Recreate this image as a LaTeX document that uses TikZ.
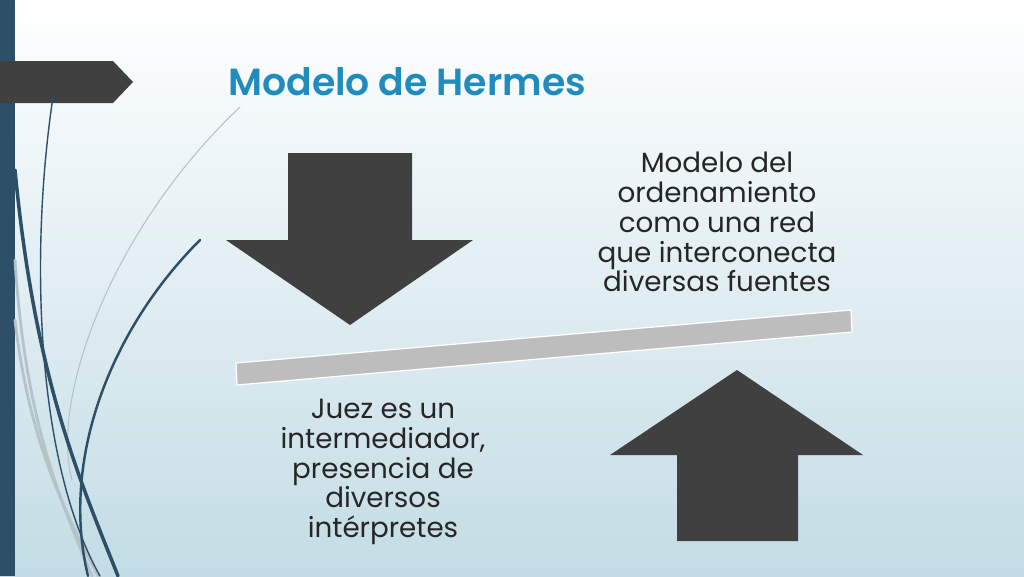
\documentclass[tikz,border=0pt]{standalone}
\usepackage{fontspec}
\setmainfont{Poppins}
\newfontfamily\titlefont{Poppins SemiBold}
\usetikzlibrary{positioning}
\definecolor{titleblue}{HTML}{1F8BBF}
\definecolor{sidebar}{HTML}{2C5068}
\definecolor{arrowgray}{HTML}{404040}
\definecolor{bargray}{HTML}{BDBDBD}
\definecolor{slidebot}{HTML}{C3DCE5}
\definecolor{slidemid}{HTML}{E2EEF2}
\definecolor{curvegray}{HTML}{B5C3C9}
\tikzset{
    bodytext/.style={align=center, inner sep=0pt, text=black!85,
        font=\fontsize{15.8}{17}\selectfont},
    darkcurve/.style={draw=sidebar, line cap=round},
    lightcurve/.style={draw=curvegray, line cap=round}
}

\begin{document}
\begin{tikzpicture}[x=0.02cm,y=-0.02cm]
        % Draw slide background
        \shade[top color=white, middle color=slidemid, bottom color=slidebot] (0,0) rectangle (1024,576);
        \useasboundingbox (0,0) rectangle (1024,576);
        % Draw side bar and title tab
        \fill[sidebar] (0,0) rectangle (15,576);
        \fill[arrowgray] (0,61) -- (113,61) -- (133,82) -- (113,103) -- (0,103) -- cycle;
        % Draw curves
        \draw[lightcurve, line width=0.6pt] (240,107) .. controls (110,230) and (50,400) .. (72,480);
        \draw[lightcurve, line width=1.6pt] (15,260) .. controls (25,420) and (60,500) .. (92,576);
        \draw[lightcurve, line width=1.6pt] (15,320) .. controls (30,450) and (70,520) .. (98,576);
        \draw[darkcurve, line width=0.8pt] (53,97) .. controls (30,250) and (35,460) .. (100,576);
        \draw[darkcurve, line width=2pt] (15,170) .. controls (35,380) and (80,480) .. (118,576);
        \draw[darkcurve, line width=1.4pt] (200,240) .. controls (110,330) and (60,460) .. (88,576);
        % Draw title
        \node[anchor=base west, inner sep=0pt, text=titleblue,
            font=\fontsize{21.5}{26}\titlefont] (title) at (228,95) {Modelo de Hermes};
        % Draw down arrow
        \fill[arrowgray] (288,153) -- (412,153) -- (412,240) -- (473,240) -- (350,325)
            -- (226,240) -- (288,240) -- cycle;
        % Draw up arrow
        \fill[arrowgray] (677,541) -- (798,541) -- (798,455) -- (863,455) -- (737,370)
            -- (610,455) -- (677,455) -- cycle;
        % Draw tilted bar
        \draw[fill=bargray, draw=white, line width=0.7pt] (236,363) -- (851,310) -- (852,332) -- (237,385) -- cycle;
        % Draw texts
        \node[bodytext] (network) at (717,222) {Modelo del\\ordenamiento\\como una red\\que interconecta\\diversas fuentes};
        \node[bodytext] (judge) at (383,472) {Juez es un\\intermediador,\\presencia de\\diversos\\intérpretes};
    \end{tikzpicture}
\end{document}
